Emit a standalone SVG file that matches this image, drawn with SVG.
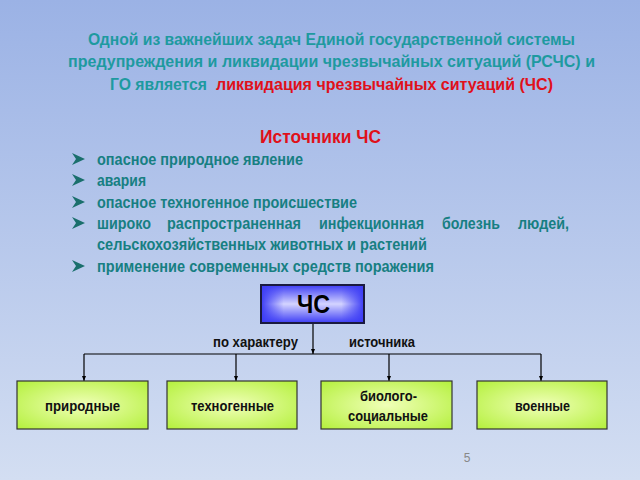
<svg xmlns="http://www.w3.org/2000/svg" width="640" height="480" viewBox="0 0 640 480">
<defs>
<linearGradient id="bg" x1="0" y1="0" x2="0" y2="1">
<stop offset="0" stop-color="#9bb2e5"/>
<stop offset="1" stop-color="#d3def2"/>
</linearGradient>
<linearGradient id="blueV" x1="0" y1="0" x2="0" y2="1">
<stop offset="0" stop-color="#3c3cf5"/>
<stop offset="0.5" stop-color="#d4d4ff"/>
<stop offset="1" stop-color="#3c3cf5"/>
</linearGradient>
<linearGradient id="blueH" x1="0" y1="0" x2="1" y2="0">
<stop offset="0" stop-color="#3c3cf5" stop-opacity="1"/>
<stop offset="0.22" stop-color="#3c3cf5" stop-opacity="0"/>
<stop offset="0.78" stop-color="#3c3cf5" stop-opacity="0"/>
<stop offset="1" stop-color="#3c3cf5" stop-opacity="1"/>
</linearGradient>
<radialGradient id="green" cx="0.5" cy="0.5" r="0.7">
<stop offset="0" stop-color="#f0ffb8"/>
<stop offset="1" stop-color="#b4f03c"/>
</radialGradient>
<marker id="arr" viewBox="0 0 10 10" refX="10" refY="5" markerWidth="5" markerHeight="6" orient="auto" markerUnits="userSpaceOnUse">
<path d="M0,1 L10,5 L0,9 z" fill="#000"/>
</marker>
<path id="bul" d="M0,-6 L13,0 L0,6 L4,0 z"/>
</defs>
<style>
.t{font-family:"Liberation Sans",Arial,sans-serif;font-weight:bold;}
.title{font-size:17px;fill:#1e9aa0;}
.red{fill:#e0101a;}
.li{font-size:17px;fill:#177f82;}
.lbl{font-size:15px;fill:#111;}
.box{fill:url(#green);stroke:#333;stroke-width:1.2;}
.cn{stroke:#000;stroke-width:1.2;fill:none;}
.b{fill:#1a6f6c;}
</style>
<rect width="640" height="480" fill="url(#bg)"/>

<g id="title">
<text class="t title" x="88" y="45" textLength="487" lengthAdjust="spacingAndGlyphs">Одной из важнейших задач Единой государственной системы</text>
<text class="t title" x="68" y="67" textLength="527" lengthAdjust="spacingAndGlyphs" fill="#1e90a0">предупреждения и ликвидации чрезвычайных ситуаций (РСЧС) и</text>
<text class="t title" x="110" y="90" textLength="97" lengthAdjust="spacingAndGlyphs">ГО является</text>
<text class="t title red" x="216" y="90" textLength="337" lengthAdjust="spacingAndGlyphs">ликвидация чрезвычайных ситуаций (ЧС)</text>
</g>

<g id="sources">
<text class="t red" x="260" y="143" font-size="19" textLength="121" lengthAdjust="spacingAndGlyphs">Источники ЧС</text>
<use href="#bul" class="b" x="72" y="159"/>
<use href="#bul" class="b" x="72" y="180"/>
<use href="#bul" class="b" x="72" y="202"/>
<use href="#bul" class="b" x="72" y="223"/>
<use href="#bul" class="b" x="72" y="266"/>
<text class="t li" x="97" y="165" textLength="206" lengthAdjust="spacingAndGlyphs">опасное природное явление</text>
<text class="t li" x="97" y="186" textLength="49" lengthAdjust="spacingAndGlyphs">авария</text>
<text class="t li" x="97" y="208" textLength="260" lengthAdjust="spacingAndGlyphs">опасное техногенное происшествие</text>
<text class="t li" y="229"><tspan x="97" textLength="54" lengthAdjust="spacingAndGlyphs">широко</tspan> <tspan x="167" textLength="134" lengthAdjust="spacingAndGlyphs">распространенная</tspan> <tspan x="319" textLength="105" lengthAdjust="spacingAndGlyphs">инфекционная</tspan> <tspan x="442" textLength="58" lengthAdjust="spacingAndGlyphs">болезнь</tspan> <tspan x="518" textLength="51" lengthAdjust="spacingAndGlyphs">людей,</tspan></text>
<text class="t li" x="97" y="250" textLength="330" lengthAdjust="spacingAndGlyphs">сельскохозяйственных животных и растений</text>
<text class="t li" x="97" y="272" textLength="337" lengthAdjust="spacingAndGlyphs">применение современных средств поражения</text>
</g>

<g id="connectors">
<line class="cn" x1="313" y1="323" x2="313" y2="354" marker-end="url(#arr)"/>
<line class="cn" x1="84" y1="354" x2="541" y2="354"/>
<line class="cn" x1="84" y1="354" x2="84" y2="381" marker-end="url(#arr)"/>
<line class="cn" x1="236" y1="354" x2="236" y2="381" marker-end="url(#arr)"/>
<line class="cn" x1="389" y1="354" x2="389" y2="381" marker-end="url(#arr)"/>
<line class="cn" x1="541" y1="354" x2="541" y2="381" marker-end="url(#arr)"/>
<text class="t lbl" x="213" y="347" textLength="85" lengthAdjust="spacingAndGlyphs">по характеру</text>
<text class="t lbl" x="349" y="347" textLength="66" lengthAdjust="spacingAndGlyphs">источника</text>
</g>

<g id="node-chs">
<rect x="261" y="285" width="103" height="38" fill="url(#blueV)"/>
<rect x="261" y="285" width="103" height="38" fill="url(#blueH)" stroke="#1a1a40" stroke-width="2"/>
<text class="t" x="297" y="313" font-size="25" fill="#000" textLength="33" lengthAdjust="spacingAndGlyphs">ЧС</text>
</g>

<g id="node-prirodnye">
<rect class="box" x="17" y="381" width="131" height="48"/>
<text class="t lbl" x="45" y="411" textLength="75" lengthAdjust="spacingAndGlyphs">природные</text>
</g>
<g id="node-tekhnogennye">
<rect class="box" x="167" y="381" width="130" height="48"/>
<text class="t lbl" x="191" y="411" textLength="83" lengthAdjust="spacingAndGlyphs">техногенные</text>
</g>
<g id="node-biosocial">
<rect class="box" x="321" y="381" width="131" height="48"/>
<text class="t lbl" x="360" y="401" textLength="57" lengthAdjust="spacingAndGlyphs">биолого-</text>
<text class="t lbl" x="348" y="421" textLength="80" lengthAdjust="spacingAndGlyphs">социальные</text>
</g>
<g id="node-voennye">
<rect class="box" x="477" y="381" width="130" height="48"/>
<text class="t lbl" x="515" y="411" textLength="55" lengthAdjust="spacingAndGlyphs">военные</text>
</g>

<text x="467" y="462" font-family="Liberation Sans,Arial,sans-serif" font-size="12" fill="#888" text-anchor="middle">5</text>
</svg>
